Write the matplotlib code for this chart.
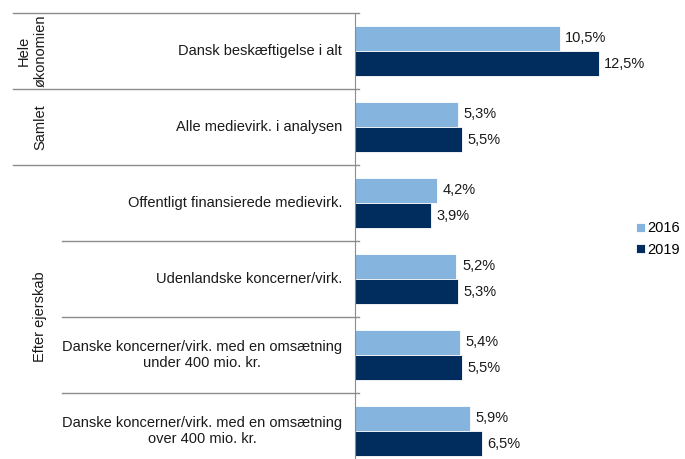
import matplotlib.pyplot as plt
from matplotlib.transforms import blended_transform_factory

# data
categories = ['Dansk beskæftigelse i alt',
              'Alle medievirk. i analysen',
              'Offentligt finansierede medievirk.',
              'Udenlandske koncerner/virk.',
              'Danske koncerner/virk. med en omsætning\nunder 400 mio. kr.',
              'Danske koncerner/virk. med en omsætning\nover 400 mio. kr.']
v2016 = [10.5, 5.3, 4.2, 5.2, 5.4, 5.9]
v2019 = [12.5, 5.5, 3.9, 5.3, 5.5, 6.5]
groups = ['Hele\nøkonomien', 'Samlet', 'Efter ejerskab']
group_span = [(0, 0), (1, 1), (2, 5)]

c16 = '#85B4DE'
c19 = '#002D5E'
gray = '#8C8C8C'
fs = 10.5

plt.rcParams['font.family'] = ['Liberation Sans', 'DejaVu Sans']

W, H = 685, 459
fig = plt.figure(figsize=(W / 100, H / 100), dpi=100)
ax_left, ax_right = 355, 620
ax_top, ax_bot = 13, 469
ax = fig.add_axes([ax_left / W, (H - ax_bot) / H,
                   (ax_right - ax_left) / W, (ax_bot - ax_top) / H])

px_per_unit = 19.5
ax.set_xlim(0, (ax_right - ax_left) / px_per_unit)
ax.set_ylim(5.5, -0.5)

y = list(range(len(categories)))
h = 0.33
b1 = ax.barh([i - h / 2 for i in y], v2016, height=h, color=c16,
             edgecolor='white', linewidth=0.6, label='2016')
b2 = ax.barh([i + h / 2 for i in y], v2019, height=h, color=c19,
             edgecolor='white', linewidth=0.6, label='2019')

for bars, vals in ((b1, v2016), (b2, v2019)):
    for bar, v in zip(bars, vals):
        ax.annotate(f'{v:.1f}%'.replace('.', ','),
                    (v, bar.get_y() + bar.get_height() / 2),
                    xytext=(4, 0), textcoords='offset points',
                    va='center', ha='left', fontsize=fs, color='#1a1a1a')

for s in ['top', 'right', 'bottom']:
    ax.spines[s].set_visible(False)
ax.spines['left'].set_color(gray)
ax.set_xticks([])
ax.set_yticks([])

tr = blended_transform_factory(fig.transFigure, ax.transData)

# category labels
for i, c in enumerate(categories):
    ax.text(342 / W, i, c, transform=tr, ha='right', va='center',
            multialignment='center', fontsize=fs, color='#1a1a1a',
            linespacing=1.1)

# separator lines
for b in [-0.5, 0.5, 1.5, 2.5, 3.5, 4.5]:
    x0 = 13 if b < 2 else 62
    ax.plot([x0 / W, 359 / W], [b, b], transform=tr, color=gray,
            lw=1, clip_on=False)

# group labels
gx = [32, 40, 40]
for g, (a, b), x in zip(groups, group_span, gx):
    ax.text(x / W, (a + b) / 2, g, transform=tr, rotation=90,
            ha='center', va='center', multialignment='center',
            fontsize=fs, color='#1a1a1a', linespacing=1.25)

fig.legend(handles=[b1, b2], labels=['2016', '2019'],
           loc='center left', bbox_to_anchor=(636 / W, 1 - 239 / H),
           frameon=False, fontsize=10.5, handlelength=0.6,
           handleheight=0.6, handletextpad=0.2, labelspacing=0.5,
           borderpad=0, borderaxespad=0)

fig.savefig('out.png', dpi=100)
